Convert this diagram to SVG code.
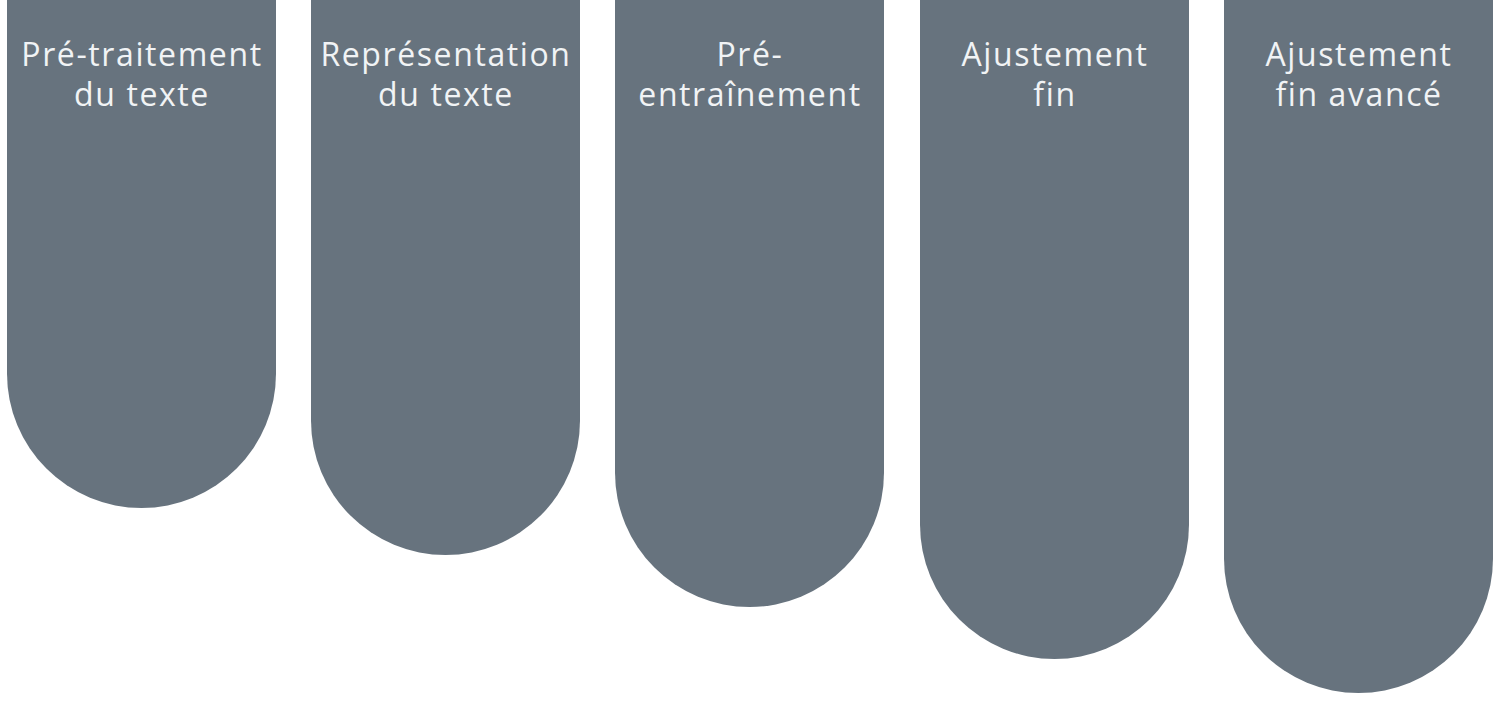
<svg xmlns="http://www.w3.org/2000/svg" width="1502" height="704" viewBox="0 0 1502 704">
<style>
.col{fill:#67737e}
.lbl{font-family:"Open Sans","Liberation Sans",sans-serif;font-size:32px;letter-spacing:1.6px;fill:#f1f3f5;text-anchor:middle}
</style>
<rect width="1502" height="704" fill="#ffffff"/>
<g id="n1"><path class="col" d="M7,-10 H276 V373.5 A134.5,134.5 0 0 1 7,373.5 Z"/>
<text class="lbl" x="142" y="66">Pré-traitement</text><text class="lbl" x="142" y="106">du texte</text></g>
<g id="n2"><path class="col" d="M311,-10 H580 V420.5 A134.5,134.5 0 0 1 311,420.5 Z"/>
<text class="lbl" x="446" y="66">Représentation</text><text class="lbl" x="446" y="106">du texte</text></g>
<g id="n3"><path class="col" d="M615,-10 H884 V472.5 A134.5,134.5 0 0 1 615,472.5 Z"/>
<text class="lbl" x="750" y="66">Pré-</text><text class="lbl" x="750" y="106">entraînement</text></g>
<g id="n4"><path class="col" d="M920,-10 H1189 V524.5 A134.5,134.5 0 0 1 920,524.5 Z"/>
<text class="lbl" x="1055" y="66">Ajustement</text><text class="lbl" x="1055" y="106">fin</text></g>
<g id="n5"><path class="col" d="M1224,-10 H1493 V558.5 A134.5,134.5 0 0 1 1224,558.5 Z"/>
<text class="lbl" x="1359" y="66">Ajustement</text><text class="lbl" x="1359" y="106">fin avancé</text></g>
<g id="connectors"/>
</svg>
